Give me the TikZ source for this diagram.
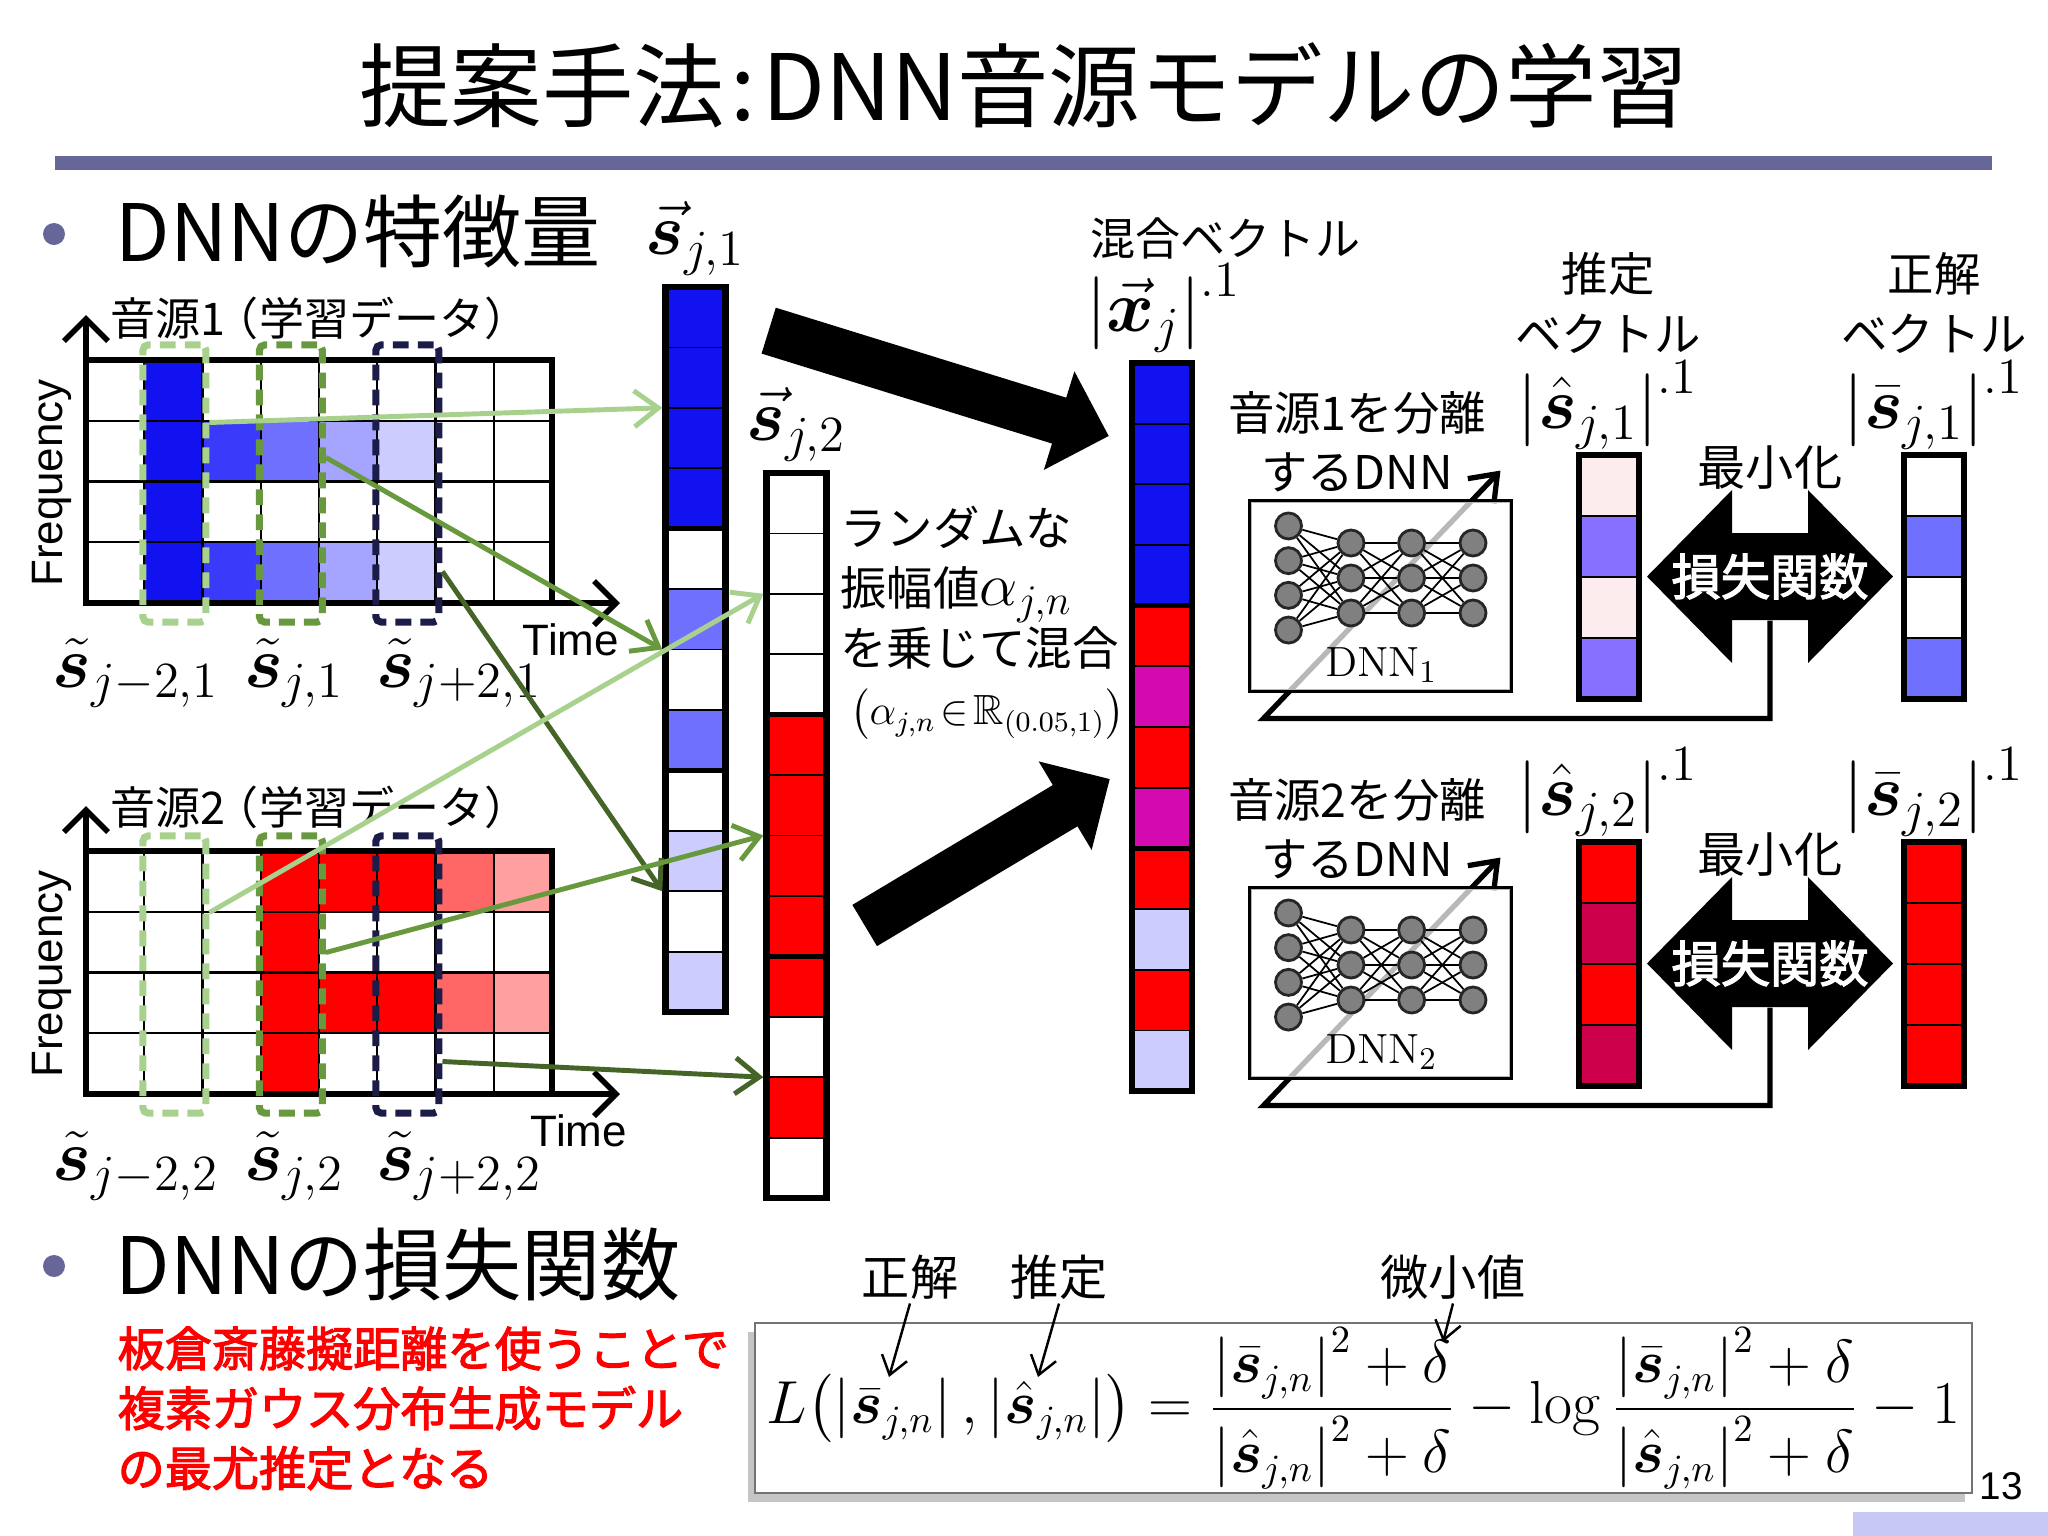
\documentclass[tikz,border=0pt]{standalone}
\usepackage[no-math]{fontspec}
\usepackage{amsmath,amssymb,bm}
\setmainfont{Noto Sans CJK JP}[AutoFakeBold=2.5]
\newfontfamily\arialfont{Liberation Sans}
\usetikzlibrary{arrows.meta,positioning,calc,shadows}

\definecolor{slate}{RGB}{102,102,153}
\definecolor{bB}{RGB}{18,18,240}
\definecolor{bC}{RGB}{58,58,250}
\definecolor{bM}{RGB}{112,112,255}
\definecolor{bN}{RGB}{165,165,255}
\definecolor{bL}{RGB}{204,204,255}
\definecolor{rR}{RGB}{255,0,0}
\definecolor{rM}{RGB}{255,102,102}
\definecolor{rL}{RGB}{255,160,160}
\definecolor{mgt}{RGB}{210,10,175}
\definecolor{pk}{RGB}{252,236,238}
\definecolor{pu}{RGB}{135,112,255}
\definecolor{crim}{RGB}{205,0,75}
\definecolor{lgreen}{RGB}{169,209,142}
\definecolor{mgreen}{RGB}{104,153,62}
\definecolor{dgreen}{RGB}{68,100,40}
\definecolor{navy}{RGB}{28,28,72}
\definecolor{lav}{RGB}{200,200,245}

\begin{document}
\begin{tikzpicture}[x=0.01cm,y=-0.01cm,>={Straight Barb[length=2.4mm,width=3.6mm]}]
  \tikzstyle{jp}=[font=\fontsize{13.2}{17}\selectfont,inner sep=1pt]
  \tikzstyle{mlab}=[font=\fontsize{20}{24}\selectfont,inner sep=0pt]
  \tikzstyle{sans}=[font=\arialfont\fontsize{12.5}{14}\selectfont,inner sep=0pt]
  \tikzstyle{vec}=[draw=black,line width=1.8pt,inner sep=0pt,minimum width=0.6cm]
  \tikzstyle{cell}=[draw=black,line width=0.5pt]
  \tikzstyle{dbox}=[line width=2pt,dash pattern=on 4.5pt off 2.6pt,rounded corners=1.5pt,inner sep=0pt,minimum width=0.63cm,minimum height=2.77cm]
  \tikzstyle{feat}=[line width=1.4pt,->]
  \tikzstyle{axis}=[line width=1.6pt,-{Straight Barb[length=2.2mm,width=4.4mm]}]
  \tikzstyle{neuron}=[circle,draw=black!85,fill=gray,line width=0.8pt,minimum size=0.26cm,inner sep=0pt]
  \tikzstyle{bigarrow}=[line width=4.8mm,-{Triangle[length=5.2mm,width=10mm]}]

  \path[use as bounding box,fill=white] (0,0) rectangle (2048,1536);

  % title and headings
  \node[font=\fontsize{26}{30}\selectfont] (title) at (1024,85) {提案手法\hspace{0.06cm}:\hspace{0.06cm}DNN音源モデルの学習};
  \fill[slate] (55,156) rectangle (1992,170);
  \fill[slate] (54,234) circle (11);
  \node[font=\fontsize{22.5}{26}\selectfont,anchor=west,inner sep=0pt] (head1) at (115,232) {DNNの特徴量};

  % spectrogram of source 1
  \foreach \r in {0,...,3}
    \fill[bB] (144.25,{360+\r*60.75}) rectangle ++(58.25,60.75);
  \foreach \r in {1,3}
    \foreach \c/\col in {2/bC,3/bM,4/bN,5/bL}
      \fill[\col] ({86+\c*58.25},{360+\r*60.75}) rectangle ++(58.25,60.75);
  \foreach \k in {1,...,7} \draw[line width=0.7pt] ({86+\k*58.25},360) -- ++(0,243);
  \foreach \k in {1,2,3} \draw[line width=0.7pt] (86,{360+\k*60.75}) -- ++(466,0);
  \draw[line width=1.6pt] (86,360) rectangle (552,603);
  \draw[axis] (86,603) -- (86,315);
  \draw[axis] (86,603) -- (620,603);
  \node[dbox,draw=lgreen] (a1) at (174.4,483.5) {};
  \node[dbox,draw=mgreen] (b1) at (290.9,483.5) {};
  \node[dbox,draw=navy] (c1) at (407.4,483.5) {};
  \node[jp,font=\fontsize{12.8}{14}\selectfont] (src1) at (320,318) {音源1\hspace{-0.12cm}（学習データ）};
  \node[sans,rotate=90] (freq1) at (52,483) {Frequency};
  \node[sans] (time1) at (571,640) {Time};
  \node[mlab] (la1) at (136,673) {$\tilde{\bm s}_{j-2,1}$};
  \node[mlab] (lb1) at (294,673) {$\tilde{\bm s}_{j,1}$};
  \node[mlab] (lc1) at (459,673) {$\tilde{\bm s}_{j+2,1}$};

  % spectrogram of source 2
  \begin{scope}[shift={(0,491)}]
    \foreach \r in {0,...,3}
      \fill[rR] (260.75,{360+\r*60.75}) rectangle ++(58.25,60.75);
    \foreach \r in {0,2}
      \foreach \c/\col in {4/rR,5/rR,6/rM,7/rL}
        \fill[\col] ({86+\c*58.25},{360+\r*60.75}) rectangle ++(58.25,60.75);
    \foreach \k in {1,...,7} \draw[line width=0.7pt] ({86+\k*58.25},360) -- ++(0,243);
    \foreach \k in {1,2,3} \draw[line width=0.7pt] (86,{360+\k*60.75}) -- ++(466,0);
    \draw[line width=1.6pt] (86,360) rectangle (552,603);
    \draw[axis] (86,603) -- (86,315);
    \draw[axis] (86,603) -- (620,603);
    \node[dbox,draw=lgreen] (a2) at (174.4,483.5) {};
    \node[dbox,draw=mgreen] (b2) at (290.9,483.5) {};
    \node[dbox,draw=navy] (c2) at (407.4,483.5) {};
    \node[jp,font=\fontsize{12.8}{14}\selectfont] (src2) at (320,316) {音源2\hspace{-0.12cm}（学習データ）};
    \node[sans,rotate=90] (freq2) at (52,483) {Frequency};
    \node[sans] (time2) at (579,640) {Time};
    \node[mlab] (la2) at (136,675) {$\tilde{\bm s}_{j-2,2}$};
    \node[mlab] (lb2) at (294,675) {$\tilde{\bm s}_{j,2}$};
    \node[mlab] (lc2) at (459,675) {$\tilde{\bm s}_{j+2,2}$};
  \end{scope}

  % feature vectors
  \foreach \col [count=\i from 0] in {bB,bB,bB,bB,white,bM,white,bM,white,bL,white,bL}
    \filldraw[cell,fill=\col] (666,{287+\i*60.42}) rectangle ++(59,60.42);
  \foreach \k in {4,8} \draw[line width=1.3pt] (666,{287+\k*60.42}) -- ++(59,0);
  \node[vec,minimum height=7.25cm] (sj1) at (695.5,649.5) {};
  \node[mlab,above=0.08cm of sj1] (lsj1) {$\vec{\bm s}_{j,1}$};

  \foreach \col [count=\i from 0] in {white,white,white,white,rR,rR,rR,rR,rR,white,rR,white}
    \filldraw[cell,fill=\col] (767,{473+\i*60.42}) rectangle ++(59,60.42);
  \foreach \k in {4,8} \draw[line width=1.3pt] (767,{473+\k*60.42}) -- ++(59,0);
  \node[vec,minimum height=7.25cm] (sj2) at (796.5,835.5) {};
  \node[mlab,above=0.08cm of sj2] (lsj2) {$\vec{\bm s}_{j,2}$};

  \foreach \col [count=\i from 0] in {bB,bB,bB,bB,rR,mgt,rR,mgt,rR,bL,rR,bL}
    \filldraw[cell,fill=\col] (1132,{363+\i*60.67}) rectangle ++(60,60.67);
  \foreach \k in {4,8} \draw[line width=1.3pt] (1132,{363+\k*60.67}) -- ++(60,0);
  \node[vec,minimum height=7.28cm] (xj) at (1162,727) {};
  \node[jp,font=\fontsize{12.8}{15}\selectfont,anchor=west] (mixlab) at (1086,238) {混合ベクトル};
  \node[mlab,anchor=west] (lxj) at (1086,308) {$\left|\vec{\bm x}_{j}\right|^{.1}$};

  % mixing
  \draw[bigarrow] ($(sj1.north east)+(40,47)$) -- ($(xj.west)+(-20,-291)$);
  \draw[bigarrow] ($(sj2.east)+(35,90)$) -- ($(xj.west)+(-19,52)$);
  \node[jp,anchor=north west,align=left] (rnd) at (836,502)
    {ランダムな\\振幅値{\fontsize{18}{17}\selectfont$\alpha_{j,n}$}\\を乗じて混合\\
     \hspace{0.1cm}{\fontsize{12}{17}\selectfont$\bigl(\alpha_{j,n}\!\in\!\mathbb{R}_{(0.05,1)}\bigr)$}};

  % separation DNNs and loss
  \node[jp,align=center] (estlab) at (1608,303) {推定\\ベクトル};
  \node[jp,align=center] (trulab) at (1934,303) {正解\\ベクトル};
  \foreach \n/\dy/\estA/\estB/\truA/\truB in {1/0/pk/pu/white/bM,2/387/rR/crim/rR/rR}{
    \begin{scope}[shift={(0,\dy)}]
      \node[jp] (sep\n) at (1357,413) {音源{\n}を分離};
      \node[jp,below=0.1cm of sep\n] (dnnlab\n) {するDNN};
      \node[draw=black,line width=0.8pt,minimum width=2.59cm,minimum height=1.88cm] (dnn\n) at (1380.5,596) {};
      % loss arrow
      \fill[black] (1647,576.5) -- ++(85,-86.5) -- ++(0,43) -- ++(76,0) -- ++(0,-43)
        -- ++(85,86.5) -- ++(-85,86.5) -- ++(0,-43) -- ++(-76,0) -- ++(0,43) -- cycle;
      \node[text=white,font=\bfseries\fontsize{14}{16}\selectfont,minimum width=0.76cm,minimum height=0.87cm,inner sep=0pt] (loss\n) at (1770,576.5) {損失関数};
      \node[jp,font=\fontsize{13.7}{16}\selectfont] (min\n) at (1770,468) {最小化};
      \draw[line width=1.5pt,->] (loss\n.south) |- ($(dnn\n.south west)+(14,27)$) -- ($(dnn\n.north east)+(-11,-30)$);
      \fill[white,opacity=0.72] (dnn\n.south west) rectangle (dnn\n.north east);
      \draw[line width=0.8pt] (dnn\n.south west) rectangle (dnn\n.north east);
      % network
      \foreach \k in {1,...,4}
        \node[neuron] (n\n-1-\k) at (1288.5,{578+(\k-2.5)*34.7}) {};
      \foreach \l/\x in {2/1351,3/1411.6,4/1473}
        \foreach \k in {1,2,3}
          \node[neuron] (n\n-\l-\k) at (\x,{578+(\k-2)*35}) {};
      \foreach \a in {1,...,4} \foreach \b in {1,2,3}
        \draw[line width=0.5pt] (n\n-1-\a) -- (n\n-2-\b);
      \foreach \a in {1,2,3} \foreach \b in {1,2,3} {
        \draw[line width=0.5pt] (n\n-2-\a) -- (n\n-3-\b);
        \draw[line width=0.5pt] (n\n-3-\a) -- (n\n-4-\b);}
      \node[font=\fontsize{13}{15}\selectfont] (dl\n) at (1381.5,665) {$\mathrm{DNN}_{\n}$};
      % estimated and true vectors
      \foreach \col [count=\i from 0] in {\estA,\estB,\estA,\estB}
        \filldraw[cell,fill=\col] (1579,{455+\i*61}) rectangle ++(60,61);
      \node[vec,minimum height=2.44cm] (est\n) at (1609,577) {};
      \foreach \col [count=\i from 0] in {\truA,\truB,\truA,\truB}
        \filldraw[cell,fill=\col] (1904,{455+\i*61}) rectangle ++(60,61);
      \node[vec,minimum height=2.44cm] (tru\n) at (1934,577) {};
      \node[mlab] (le\n) at (1608,405) {$\left|\hat{\bm s}_{j,\n}\right|^{.1}$};
      \node[mlab] (lt\n) at (1934,405) {$\left|\bar{\bm s}_{j,\n}\right|^{.1}$};
    \end{scope}}

  % frames into feature vectors
  \draw[feat,lgreen] ($(a1.east)+(0,-61)$) -- ($(sj1.west)+(0,-241.7)$);
  \draw[feat,mgreen] ($(b1.east)+(0,-26)$) -- (sj1.west);
  \draw[feat,dgreen] ($(c1.east)+(0,88)$) -- ($(sj1.west)+(0,241.7)$);
  \draw[feat,lgreen] ($(a2.east)+(0,-62)$) -- ($(sj2.west)+(0,-241.7)$);
  \draw[feat,mgreen] ($(b2.east)+(0,-22)$) -- (sj2.west);
  \draw[feat,dgreen] ($(c2.east)+(0,87)$) -- ($(sj2.west)+(0,241.7)$);

  % loss function
  \fill[slate] (54,1266) circle (11);
  \node[font=\fontsize{22.5}{26}\selectfont,anchor=west,inner sep=0pt] (head2) at (115,1264) {DNNの損失関数};
  \node[text=red,font=\bfseries\fontsize{13.4}{17}\selectfont,align=left,anchor=north west,inner sep=0pt] (note) at (117,1326)
    {板倉斎藤擬距離を使うことで\\複素ガウス分布生成モデル\\の最尤推定となる};
  \node[draw=black!55,line width=0.6pt,fill=white,drop shadow={shadow xshift=-0.7mm,shadow yshift=-0.9mm,fill=black!45},
        minimum width=12.17cm,minimum height=1.7cm,inner sep=0pt,font=\fontsize{16.2}{20}\selectfont] (lossbox) at (1363.5,1408)
    {$\displaystyle L\bigl(\left|\bar{\bm s}_{j,n}\right|,\left|\hat{\bm s}_{j,n}\right|\bigr)
      =\frac{\left|\bar{\bm s}_{j,n}\right|^2+\delta}{\left|\hat{\bm s}_{j,n}\right|^2+\delta}
      -\log\frac{\left|\bar{\bm s}_{j,n}\right|^2+\delta}{\left|\hat{\bm s}_{j,n}\right|^2+\delta}-1$};
  \node[jp,font=\fontsize{13.7}{16}\selectfont] (lans) at (910,1277) {正解};
  \node[jp,font=\fontsize{13.7}{16}\selectfont] (lest) at (1059,1277) {推定};
  \node[jp,font=\fontsize{13.7}{16}\selectfont] (lsmall) at (1453,1277) {微小値};
  \coordinate (pbar) at (889,1377);
  \coordinate (phat) at (1038,1377);
  \coordinate (pdel) at (1443,1342);
  \draw[line width=0.7pt,-{Straight Barb[length=1.8mm,width=2.6mm]}] (lans.south) -- (pbar);
  \draw[line width=0.7pt,-{Straight Barb[length=1.8mm,width=2.6mm]}] (lest.south) -- (phat);
  \draw[line width=0.7pt,-{Straight Barb[length=1.8mm,width=2.6mm]}] (lsmall.south) -- (pdel);

  % page number
  \fill[lav] (1853,1512) rectangle (2048,1536);
  \node[font=\arialfont\fontsize{11}{12}\selectfont] (page) at (2001,1486) {13};
\end{tikzpicture}
\end{document}
